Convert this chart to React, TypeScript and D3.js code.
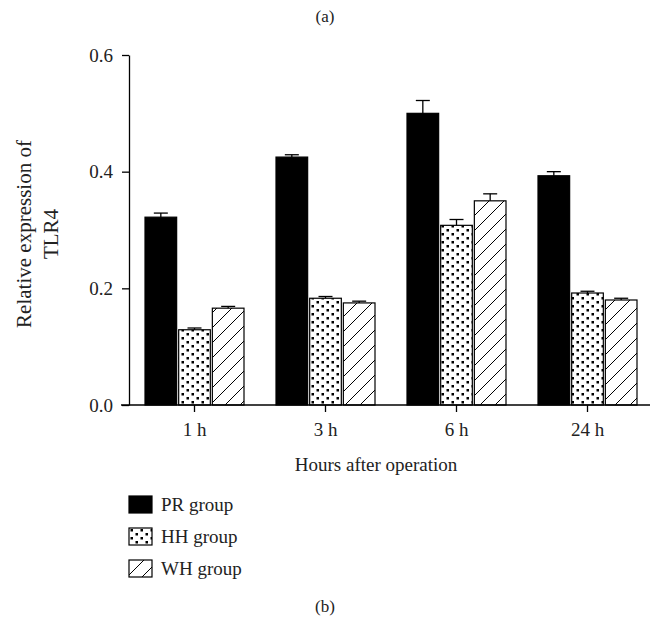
import * as d3 from "d3";
import { useEffect, useRef } from "react";

// ---- data ----
const hours = ["1 h", "3 h", "6 h", "24 h"];
const groups = ["PR group", "HH group", "WH group"];
const prValues = [0.322, 0.425, 0.5, 0.393];
const prErrors = [0.007, 0.004, 0.022, 0.007];
const hhValues = [0.129, 0.183, 0.308, 0.192];
const hhErrors = [0.003, 0.003, 0.01, 0.003];
const whValues = [0.166, 0.175, 0.35, 0.18];
const whErrors = [0.003, 0.003, 0.012, 0.003];
const yTicks = [0, 0.2, 0.4, 0.6];

export default function App() {
  const svgRef = useRef<SVGSVGElement | null>(null);

  useEffect(() => {
    const width = 650;
    const height = 622;
    const font = "'Liberation Serif', 'DejaVu Serif', serif";

    const svg = d3.select(svgRef.current);
    svg.selectAll("*").remove();
    svg.attr("viewBox", `0 0 ${width} ${height}`);

    // patterns
    const defs = svg.append("defs");
    const dots = defs
      .append("pattern")
      .attr("id", "dots")
      .attr("patternUnits", "userSpaceOnUse")
      .attr("width", 10)
      .attr("height", 8);
    dots.append("rect").attr("width", 10).attr("height", 8).attr("fill", "#fff");
    dots.append("rect").attr("x", 1.5).attr("y", 1).attr("width", 2.5).attr("height", 2.5).attr("fill", "#000");
    dots.append("rect").attr("x", 6.5).attr("y", 5).attr("width", 2.5).attr("height", 2.5).attr("fill", "#000");

    const hatch = defs
      .append("pattern")
      .attr("id", "hatch")
      .attr("patternUnits", "userSpaceOnUse")
      .attr("width", 15)
      .attr("height", 15);
    hatch.append("rect").attr("width", 15).attr("height", 15).attr("fill", "#fff");
    hatch
      .append("path")
      .attr("d", "M-1,16 L16,-1 M-4,4 L4,-4 M11,19 L19,11")
      .attr("stroke", "#000")
      .attr("stroke-width", 1);

    const fills = ["#000", "url(#dots)", "url(#hatch)"];
    const series = [prValues, hhValues, whValues];
    const errors = [prErrors, hhErrors, whErrors];

    // ---- scales ----
    const x = d3.scaleBand().domain(hours).range([129, 653]).paddingInner(0).paddingOuter(0);
    const inner = d3.scaleBand().domain(groups).range([16, 115]).paddingInner(0.06);
    const y = d3.scaleLinear().domain([0, 0.6]).range([405, 55]);

    const g = svg.append("g");

    // bars
    groups.forEach((grp, si) => {
      g.append("g")
        .selectAll("rect")
        .data(series[si])
        .join("rect")
        .attr("x", (_, i) => x(hours[i])! + inner(grp)!)
        .attr("y", (d) => y(d))
        .attr("width", inner.bandwidth())
        .attr("height", (d) => y(0) - y(d))
        .attr("fill", fills[si])
        .attr("stroke", "#000")
        .attr("stroke-width", 1.2);

      // error bars (upward only)
      const eg = g.append("g").attr("stroke", "#000").attr("stroke-width", 1.3);
      series[si].forEach((v, i) => {
        const cx = x(hours[i])! + inner(grp)! + inner.bandwidth() / 2;
        const top = y(v + errors[si][i]);
        eg.append("line").attr("x1", cx).attr("x2", cx).attr("y1", y(v)).attr("y2", top);
        eg.append("line").attr("x1", cx - 7).attr("x2", cx + 7).attr("y1", top).attr("y2", top);
      });
    });

    // ---- axes ----
    const yAxis = g
      .append("g")
      .attr("transform", "translate(129,0)")
      .call(d3.axisLeft(y).tickValues(yTicks).tickFormat(d3.format(".1f")).tickSize(7).tickSizeOuter(0).tickPadding(9));
    yAxis.select(".domain").attr("stroke-width", 1.3);
    yAxis.selectAll("line").attr("stroke-width", 1.3);
    yAxis.selectAll("text").attr("font-family", font).attr("font-size", 19).attr("fill", "#222");

    // x axis baseline (extends a bit left of y axis)
    g.append("line")
      .attr("x1", 121)
      .attr("x2", 650)
      .attr("y1", y(0))
      .attr("y2", y(0))
      .attr("stroke", "#000")
      .attr("stroke-width", 1.3);

    const xAxis = g
      .append("g")
      .attr("transform", `translate(0,${y(0)})`)
      .call(d3.axisBottom(x).tickSize(7).tickSizeOuter(0).tickPadding(11));
    xAxis.select(".domain").remove();
    xAxis.selectAll("line").attr("stroke-width", 1.3);
    xAxis.selectAll("text").attr("font-family", font).attr("font-size", 19).attr("fill", "#222");

    // ---- titles ----
    svg
      .append("text")
      .attr("x", 376)
      .attr("y", 471)
      .attr("text-anchor", "middle")
      .attr("font-family", font)
      .attr("font-size", 19)
      .attr("fill", "#222")
      .text("Hours after operation");

    const yt = svg
      .append("text")
      .attr("transform", "translate(0,234) rotate(-90)")
      .attr("text-anchor", "middle")
      .attr("font-family", font)
      .attr("font-size", 21)
      .attr("fill", "#222");
    yt.append("tspan").attr("x", 0).attr("y", 31).text("Relative expression of");
    yt.append("tspan").attr("x", 0).attr("y", 58).text("TLR4");

    svg
      .append("text")
      .attr("x", 325)
      .attr("y", 22)
      .attr("text-anchor", "middle")
      .attr("font-family", font)
      .attr("font-size", 17)
      .attr("fill", "#222")
      .text("(a)");

    svg
      .append("text")
      .attr("x", 325)
      .attr("y", 612)
      .attr("text-anchor", "middle")
      .attr("font-family", font)
      .attr("font-size", 17)
      .attr("fill", "#222")
      .text("(b)");

    // ---- legend ----
    const legend = svg
      .append("g")
      .selectAll("g")
      .data(groups)
      .join("g")
      .attr("transform", (_, i) => `translate(129,${496 + i * 32})`);
    legend
      .append("rect")
      .attr("width", 23)
      .attr("height", 17)
      .attr("fill", (_, i) => fills[i])
      .attr("stroke", "#000")
      .attr("stroke-width", 1.2);
    legend
      .append("text")
      .attr("x", 32)
      .attr("y", 15)
      .attr("font-family", font)
      .attr("font-size", 19)
      .attr("fill", "#222")
      .text((d) => d);
  }, []);

  return (
    <div style={{ position: "absolute", left: 0, top: 0 }}>
      <svg ref={svgRef} width={650} height={622} style={{ display: "block" }} />
    </div>
  );
}
